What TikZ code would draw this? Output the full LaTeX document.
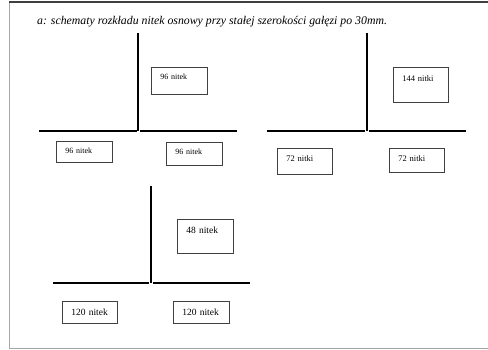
\documentclass[tikz,border=0pt]{standalone}
\usepackage{fontspec}
\setmainfont{Liberation Serif}
\definecolor{frametop}{HTML}{3F3F3F}
\definecolor{frameside}{HTML}{A6A6A6}
\definecolor{boxline}{HTML}{404040}
\usetikzlibrary{positioning}
\tikzset{
  bar/.style={line width=1.8pt, black},
  nbox/.style={draw=boxline, line width=0.8pt, anchor=north west, align=left,
    inner xsep=9pt, inner ysep=0pt, text width=38pt},
}

\begin{document}
\begin{tikzpicture}[x=1pt, y=-1pt]
  \useasboundingbox (0,0) rectangle (488,350);
  \draw[frameside, line width=1.2pt] (9.5,2) -- (9.5,348.5) -- (488,348.5);
  \draw[frametop, line width=1.2pt] (9,2) -- (488,2);
  \node[right, inner sep=0pt, font=\fontsize{11.8}{13}\selectfont\itshape] (title) at (37,22)
    {a: schematy rozkładu nitek osnowy przy stałej szerokości gałęzi po 30mm.};

  \draw[bar] (39,131) -- (137,131);
  \draw[bar] (140,131) -- (237,131);
  \draw[bar] (138,33) -- (138,131);
  \node[nbox, font=\fontsize{8}{9}\selectfont, text height=12pt, text depth=15pt] (up1) at (151,67) {96 nitek};
  \node[nbox, font=\fontsize{8}{9}\selectfont, text height=12pt, text depth=9pt] (ll1) at (56,141) {96 nitek};
  \node[nbox, font=\fontsize{8}{9}\selectfont, text height=12pt, text depth=11pt] (lr1) at (166,142) {96 nitek};

  \draw[bar] (267,131) -- (365,131);
  \draw[bar] (369,131) -- (466,131);
  \draw[bar] (367,33) -- (367,131);
  \node[nbox, font=\fontsize{8.5}{9}\selectfont, text height=14pt, text depth=21pt, text width=37pt] (up2) at (393,67) {144 nitki};
  \node[nbox, font=\fontsize{8.5}{9}\selectfont, text height=13pt, text depth=13pt, text width=37pt] (ll2) at (277,148) {72 nitki};
  \node[nbox, font=\fontsize{8.5}{9}\selectfont, text height=13pt, text depth=11pt, text width=37pt] (lr2) at (389,148) {72 nitki};

  \draw[bar] (53,283) -- (149,283);
  \draw[bar] (153,283) -- (250,283);
  \draw[bar] (151,186) -- (151,283);
  \node[nbox, font=\fontsize{9.5}{11}\selectfont, text height=14pt, text depth=20pt] (up3) at (177,219) {48 nitek};
  \node[nbox, font=\fontsize{9.5}{11}\selectfont, text height=14pt, text depth=8pt, text width=37pt] (ll3) at (62,301) {120 nitek};
  \node[nbox, font=\fontsize{9.5}{11}\selectfont, text height=14pt, text depth=8pt] (lr3) at (173,301) {120 nitek};
\end{tikzpicture}
\end{document}
